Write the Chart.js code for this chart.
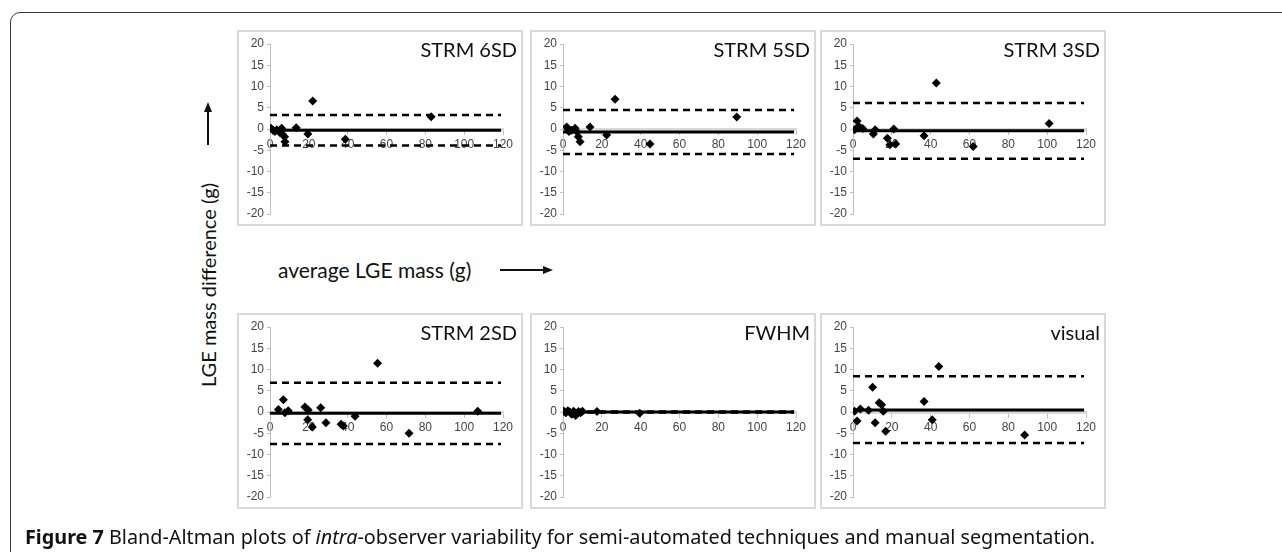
<!DOCTYPE html>
<html>
<head>
<meta charset="utf-8">
<script src="https://cdn.jsdelivr.net/npm/chart.js@4.4.1/dist/chart.umd.min.js"></script>
<style>
  body { margin: 0; background: #fff; width: 1282px; height: 552px; overflow: hidden; position: relative; font-family: Lato, sans-serif; }
  .frame { position: absolute; left: 10px; top: 12px; width: 1400px; height: 700px; border: 1.5px solid #3a3a3a; border-top-left-radius: 10px; box-sizing: border-box; }
  .panel { position: absolute; width: 286px; height: 196px; }
  .panel canvas { position: absolute; left: 0; top: 0; }
  .panel .edge { position: absolute; left: 0; top: 0; right: 0; bottom: 0; border: 2px solid #d9d9d9; box-sizing: border-box; pointer-events: none; }
  .panel .ttl { position: absolute; right: 6px; top: 9px; font-size: 20px; line-height: 20px; color: #111; white-space: nowrap; }
  .lab { position: absolute; line-height: 22px; color: #111; white-space: nowrap; }
  #ylab { left: 208px; top: 285px; font-size: 20px; transform: translate(-50%, -50%) rotate(-90deg); }
  #xlab { left: 278px; top: 259px; font-size: 21px; }
  #caption { position: absolute; left: 25px; top: 527px; font-family: "Noto Sans", sans-serif; font-size: 17px; line-height: 20px; color: #111; white-space: nowrap; }
  svg.arrows { position: absolute; left: 0; top: 0; }
</style>
</head>
<body>
<div class="frame"></div>
<div id="panels"></div>
<div class="lab" id="ylab">LGE mass difference (g)</div>
<div class="lab" id="xlab">average LGE mass (g)</div>
<svg class="arrows" width="1282" height="552">
  <line x1="208" y1="145" x2="208" y2="110" stroke="#111" stroke-width="2"/>
  <polygon points="208,102 204,112 212,112" fill="#111"/>
  <line x1="500" y1="270" x2="545" y2="270" stroke="#111" stroke-width="2"/>
  <polygon points="553,270 543,266 543,274" fill="#111"/>
</svg>
<div id="caption"><b>Figure 7</b> Bland-Altman plots of <i>intra</i>-observer variability for semi-automated techniques and manual segmentation.</div>

<script>
// tick labels
const xTickLabels = [0, 20, 40, 60, 80, 100, 120];
const yTickLabels = [-20, -15, -10, -5, 0, 5, 10, 15, 20];

// one entry per panel
const panelTitles = ['STRM 6SD', 'STRM 5SD', 'STRM 3SD', 'STRM 2SD', 'FWHM', 'visual'];
const meanDiff   = [-0.3, -0.7, -0.4, -0.3, 0.0, 0.5];
const upperLimit = [3.3, 4.5, 6.1, 6.9, 0.1, 8.4];
const lowerLimit = [-3.9, -5.9, -7.0, -7.5, -0.1, -7.3];
const lineStart = 0;
const lineEnd = 119;

// points: average mass (x) and difference (y)
const strm6X = [0.5, 1.5, 2.5, 3.5, 5, 6, 6.5, 7.5, 7.7, 13.5, 19.5, 22, 38.8, 83];
const strm6Y = [0.2, -0.3, -0.6, -0.2, -0.8, 0.2, -1.3, -1.8, -3.0, 0.3, -1.2, 6.6, -2.4, 2.9];
const strm5X = [1.9, 2.5, 3.1, 4.5, 6.2, 7.0, 7.9, 8.8, 13.9, 22.5, 26.8, 44.8, 89.5];
const strm5Y = [0.5, 0.0, -0.6, -0.3, 0.2, -0.6, -1.8, -3.0, 0.5, -1.4, 7.0, -3.5, 2.8];
const strm3X = [0.8, 2.1, 2.9, 5, 10.5, 11.4, 17.7, 19, 21, 22, 36.6, 42.9, 61.9, 101];
const strm3Y = [-0.2, 1.9, 0.7, 0.1, -1.2, -0.2, -2.2, -3.7, 0, -3.5, -1.6, 10.8, -4.1, 1.3];
const strm2X = [4.3, 6.9, 7.7, 9.4, 18, 19.7, 19.4, 21.8, 26.1, 28.8, 36.6, 37.8, 43.8, 55.4, 71.6, 107];
const strm2Y = [0.6, 2.9, -0.2, 0.3, 1.2, 0.5, -1.8, -3.5, 1.0, -2.5, -2.9, -3.3, -1.0, 11.5, -5.0, 0.2];
const fwhmX = [0.5, 1.5, 2.5, 3.5, 4.5, 5.5, 6.5, 7, 8, 9, 10, 17.5, 39.5];
const fwhmY = [0.2, -0.2, 0.3, 0, -0.5, 0.2, -0.8, -0.3, 0.1, -0.2, 0.2, 0.1, -0.3];
const visualX = [0.8, 2.1, 3.8, 8, 10.1, 11.4, 13.5, 14.7, 15.6, 16.8, 36.6, 40.8, 44.2, 88.4];
const visualY = [0.2, -2.1, 0.7, 0.4, 5.8, -2.5, 2.2, 1.7, 0.2, -4.5, 2.5, -1.8, 10.7, -5.4];

const pointsX = [strm6X, strm5X, strm3X, strm2X, fwhmX, visualX];
const pointsY = [strm6Y, strm5Y, strm3Y, strm2Y, fwhmY, visualY];

// box positions on the page
const boxLeft = [237, 530, 820];
const boxTop = [30, 313];

const tickFont = { family: 'Liberation Sans', size: 12 };

function makePanel(i) {
    const wrap = document.createElement('div');
    wrap.className = 'panel';
    wrap.style.left = boxLeft[i % 3] + 'px';
    wrap.style.top = boxTop[Math.floor(i / 3)] + 'px';
    const canvas = document.createElement('canvas');
    canvas.width = 286;
    canvas.height = 196;
    canvas.style.width = '286px';
    canvas.style.height = '196px';
    wrap.appendChild(canvas);
    const edge = document.createElement('div');
    edge.className = 'edge';
    wrap.appendChild(edge);
    const ttl = document.createElement('div');
    ttl.className = 'ttl';
    ttl.textContent = panelTitles[i];
    wrap.appendChild(ttl);
    document.getElementById('panels').appendChild(wrap);

    const pts = pointsX[i].map((x, k) => ({ x: x, y: pointsY[i][k] }));
    const hline = v => [{ x: lineStart, y: v }, { x: lineEnd, y: v }];

    new Chart(canvas.getContext('2d'), {
        type: 'scatter',
        data: {
            datasets: [
                { data: pts, pointStyle: 'rectRot', pointRadius: 4.5, backgroundColor: '#000', borderColor: '#000', borderWidth: 0 },
                { data: hline(meanDiff[i]), showLine: true, borderColor: '#000', borderWidth: 3, pointRadius: 0 },
                { data: hline(upperLimit[i]), showLine: true, borderColor: '#000', borderWidth: 2.5, borderDash: [7, 5], pointRadius: 0 },
                { data: hline(lowerLimit[i]), showLine: true, borderColor: '#000', borderWidth: 2.5, borderDash: [7, 5], pointRadius: 0 }
            ]
        },
        options: {
            responsive: false,
            animation: false,
            devicePixelRatio: 1,
            layout: { padding: { left: 0, right: 20, top: 14, bottom: 12 } },
            plugins: { legend: { display: false }, tooltip: { enabled: false } },
            scales: {
                x: {
                    type: 'linear',
                    position: { y: 0 },
                    min: 0, max: 120,
                    afterBuildTicks: s => { s.ticks = xTickLabels.map(v => ({ value: v })); },
                    grid: { display: true, drawOnChartArea: false, drawTicks: true, tickLength: 4, color: '#bfbfbf' },
                    border: { color: '#d9d9d9', width: 3 },
                    ticks: { font: tickFont, color: '#444', padding: 4, maxRotation: 0, autoSkip: false }
                },
                y: {
                    type: 'linear',
                    min: -20, max: 20,
                    afterBuildTicks: s => { s.ticks = yTickLabels.map(v => ({ value: v })); },
                    afterFit: s => { s.width = 33; },
                    grid: { display: true, drawOnChartArea: false, drawTicks: true, tickLength: 3, color: '#bfbfbf' },
                    border: { color: '#bfbfbf', width: 1 },
                    ticks: { font: tickFont, color: '#444', padding: 3 }
                }
            }
        }
    });
}

for (let i = 0; i < panelTitles.length; i++) makePanel(i);

// fit caption width to the figure
const cap = document.getElementById('caption');
const capWidth = cap.getBoundingClientRect().width;
cap.style.fontSize = (17 * 1071 / capWidth).toFixed(2) + 'px';
</script>
</body>
</html>
